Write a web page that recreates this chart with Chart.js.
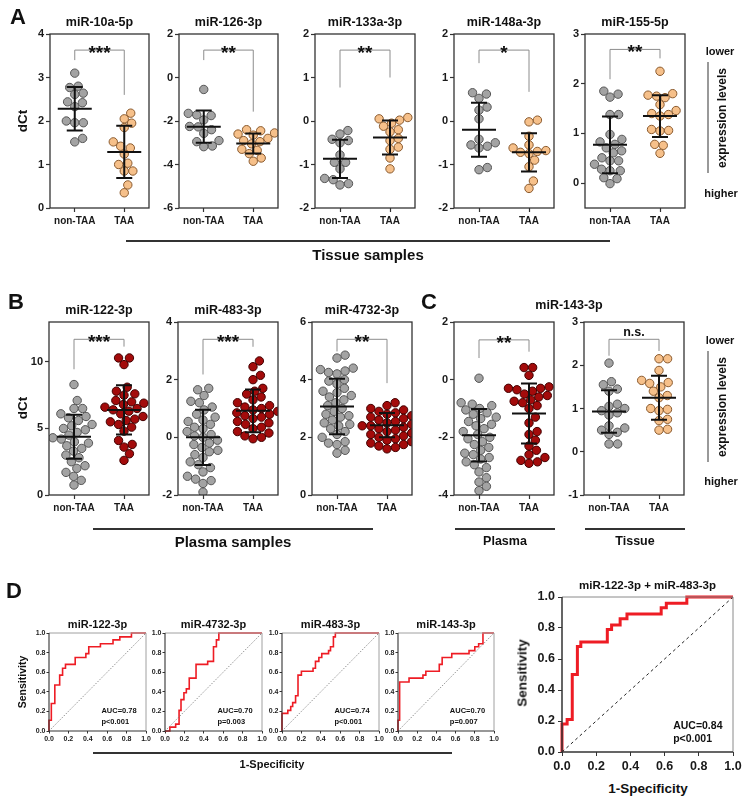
<!DOCTYPE html>
<html>
<head>
<meta charset="utf-8">
<script src="https://cdn.jsdelivr.net/npm/chart.js@4.4.1/dist/chart.umd.min.js"></script>
<style>
  body{margin:0;background:#fff;font-family:"Liberation Sans",Arial,sans-serif;}
  #fig{position:relative;width:749px;height:802px;overflow:hidden;background:#fff}
  #fig canvas{position:absolute}
  .t{position:absolute;font-weight:bold;white-space:nowrap;color:#111;transform:translate(-50%,-50%)}
  .v{transform:translate(-50%,-50%) rotate(-90deg)}
  .ln{position:absolute;height:1.5px;background:#333}
  .vl{position:absolute;width:1.5px;background:#999}
</style>
</head>
<body>
<div id="fig"></div>
<script>
// ---- data ----
const groups = ['non-TAA', 'TAA'];

// A: tissue samples, dCt
const a1Non = [3.10, 2.80, 2.77, 2.64, 2.61, 2.44, 2.33, 2.42, 2.00, 1.96, 1.96, 1.52, 1.60];
const a1Taa = [2.18, 2.05, 1.95, 1.85, 1.52, 1.38, 1.42, 1.24, 1.03, 1.00, 0.85, 0.85, 0.53, 0.35];
const a2Non = [-0.55, -1.65, -1.72, -1.75, -1.95, -2.25, -2.27, -2.40, -2.57, -2.90, -2.95, -3.15, -3.18];
const a2Taa = [-2.40, -2.45, -2.55, -2.60, -2.65, -2.80, -2.90, -2.95, -3.05, -3.30, -3.35, -3.50, -3.70, -3.85];
const a3Non = [-0.22, -0.30, -0.42, -0.45, -0.50, -0.78, -0.95, -0.95, -1.10, -1.32, -1.35, -1.44, -1.47];
const a3Taa = [0.08, 0.05, 0.02, -0.05, -0.12, -0.20, -0.25, -0.40, -0.45, -0.60, -0.65, -0.85, -1.10];
const a4Non = [0.65, 0.62, 0.52, 0.32, 0.25, 0.05, -0.42, -0.50, -0.55, -0.58, -0.62, -1.07, -1.12];
const a4Taa = [0.02, -0.02, -0.35, -0.55, -0.62, -0.68, -0.70, -0.72, -0.75, -0.90, -1.05, -1.38, -1.55];
const a5Non = [1.79, 1.73, 1.85, 1.38, 1.38, 0.98, 0.88, 0.83, 0.78, 0.71, 0.61, 0.65, 0.51, 0.45, 0.45, 0.38, 0.25, 0.25, 0.28, 0.11, 0.09, -0.01];
const a5Taa = [2.25, 1.80, 1.77, 1.75, 1.72, 1.58, 1.46, 1.40, 1.38, 1.35, 1.08, 1.06, 1.05, 0.78, 0.76, 0.60];

// B: plasma samples, dCt
const b1Non = [8.3, 7.1, 6.5, 6.5, 6.1, 5.9, 5.8, 5.6, 5.3, 5.2, 5.0, 4.9, 4.7, 4.5, 4.3, 4.2, 4.0, 3.9, 3.7, 3.5, 3.3, 3.0, 2.8, 2.5, 2.2, 2.0, 1.7, 1.4, 1.1, 0.75];
const b1Taa = [10.3, 10.3, 9.8, 8.1, 7.8, 7.6, 7.5, 7.1, 7.0, 6.9, 6.8, 6.6, 6.5, 6.4, 6.3, 6.1, 5.9, 5.7, 5.6, 5.5, 5.3, 5.1, 4.8, 4.1, 3.8, 3.6, 3.1, 2.6];
const b2Non = [1.7, 1.65, 1.45, 1.25, 1.2, 1.05, 0.95, 0.8, 0.7, 0.6, 0.55, 0.45, 0.35, 0.3, 0.2, 0.1, 0.05, 0.0, -0.1, -0.2, -0.25, -0.35, -0.45, -0.5, -0.6, -0.7, -0.85, -0.95, -1.05, -1.2, -1.35, -1.45, -1.5, -1.6, -1.9];
const b2Taa = [2.65, 2.45, 2.15, 2.0, 1.7, 1.6, 1.5, 1.4, 1.3, 1.2, 1.1, 1.05, 1.0, 0.95, 0.9, 0.85, 0.8, 0.75, 0.7, 0.65, 0.55, 0.5, 0.45, 0.35, 0.3, 0.2, 0.15, 0.05, 0.0, -0.05];
const b3Non = [4.85, 4.75, 4.4, 4.35, 4.3, 4.25, 4.2, 4.0, 3.95, 3.85, 3.7, 3.6, 3.55, 3.45, 3.4, 3.3, 3.2, 3.1, 3.0, 2.9, 2.8, 2.75, 2.7, 2.6, 2.5, 2.45, 2.4, 2.3, 2.2, 2.1, 2.0, 1.85, 1.8, 1.75, 1.55, 1.45];
const b3Taa = [3.2, 3.1, 3.0, 2.95, 2.9, 2.85, 2.8, 2.75, 2.7, 2.65, 2.6, 2.55, 2.5, 2.45, 2.4, 2.4, 2.35, 2.3, 2.25, 2.2, 2.15, 2.1, 2.05, 2.0, 1.95, 1.9, 1.85, 1.8, 1.75, 1.7, 1.65, 1.6];

// C: miR-143-3p, plasma and tissue
const c1Non = [0.05, -0.8, -0.85, -0.9, -1.0, -1.05, -1.15, -1.2, -1.3, -1.35, -1.45, -1.55, -1.6, -1.7, -1.8, -1.9, -2.0, -2.05, -2.15, -2.25, -2.35, -2.45, -2.55, -2.6, -2.7, -2.75, -2.85, -2.95, -3.05, -3.2, -3.4, -3.55, -3.7, -3.85];
const c1Taa = [0.42, 0.42, 0.15, -0.25, -0.3, -0.3, -0.35, -0.4, -0.5, -0.55, -0.6, -0.7, -0.75, -0.8, -0.9, -1.0, -1.3, -1.5, -1.8, -1.9, -2.1, -2.3, -2.45, -2.6, -2.7, -2.8, -2.85, -2.9];
const c2Non = [2.05, 1.62, 1.55, 1.45, 1.4, 1.1, 1.05, 1.0, 0.95, 0.9, 0.85, 0.6, 0.55, 0.5, 0.45, 0.4, 0.18, 0.18];
const c2Taa = [2.15, 2.15, 1.88, 1.65, 1.6, 1.58, 1.5, 1.4, 1.3, 1.25, 1.0, 0.98, 0.95, 0.75, 0.72, 0.52, 0.5];

// mean and SD per group, as drawn
const a1Mean = [2.28, 1.29], a1Sd = [0.50, 0.60];
const a2Mean = [-2.26, -3.03], a2Sd = [0.74, 0.46];
const a3Mean = [-0.87, -0.38], a3Sd = [0.44, 0.39];
const a4Mean = [-0.20, -0.72], a4Sd = [0.62, 0.44];
const a5Mean = [0.77, 1.35], a5Sd = [0.57, 0.42];
const b1Mean = [4.38, 6.39], b1Sd = [1.65, 1.85];
const b2Mean = [0.00, 0.92], b2Sd = [0.96, 0.74];
const b3Mean = [3.07, 2.42], b3Sd = [0.96, 0.42];
const c1Mean = [-1.93, -1.17], c1Sd = [0.91, 1.04];
const c2Mean = [0.93, 1.25], c2Sd = [0.49, 0.51];

// significance brackets: [top, left leg end, right leg end]
const a1Br = [3.63, 3.4, 2.6],   a1Sig = '***';
const a2Br = [1.26, 0.8, -1.57], a2Sig = '**';
const a3Br = [1.63, 0.77, 1.0],  a3Sig = '**';
const a4Br = [1.63, 1.33, 0.67], a4Sig = '*';
const a5Br = [2.69, 2.09, 2.51], a5Sig = '**';
const b1Br = [11.7, 9.45, 11.15], b1Sig = '***';
const b2Br = [3.4, 2.18, 3.14],  b2Sig = '***';
const b3Br = [5.4, 4.98, 3.88],  b3Sig = '**';
const c1Br = [1.38, 0.75, 0.97], c1Sig = '**';
const c2Br = [2.6, 2.22, 2.33],  c2Sig = 'n.s.';

// y ranges and tick labels
const a1Range = [0, 4],    a1Ticks = [0, 1, 2, 3, 4];
const a2Range = [-6, 2],   a2Ticks = [-6, -4, -2, 0, 2];
const a3Range = [-2, 2],   a3Ticks = [-2, -1, 0, 1, 2];
const a4Range = [-2, 2],   a4Ticks = [-2, -1, 0, 1, 2];
const a5Range = [-0.5, 3], a5Ticks = [0, 1, 2, 3];
const b1Range = [0, 13],   b1Ticks = [0, 5, 10];
const b2Range = [-2, 4],   b2Ticks = [-2, 0, 2, 4];
const b3Range = [0, 6],    b3Ticks = [0, 2, 4, 6];
const c1Range = [-4, 2],   c1Ticks = [-4, -2, 0, 2];
const c2Range = [-1, 3],   c2Ticks = [-1, 0, 1, 2, 3];

// D: ROC curves (1-specificity, sensitivity) at each step corner
const d1Fpr = [0, 0, 0.024, 0.06, 0.11, 0.14, 0.17, 0.27, 0.38, 0.41, 0.53, 0.66, 0.73, 0.85, 1];
const d1Tpr = [0, 0.11, 0.28, 0.47, 0.57, 0.64, 0.68, 0.75, 0.79, 0.86, 0.89, 0.93, 0.96, 1, 1];
const d2Fpr = [0, 0.05, 0.11, 0.145, 0.165, 0.195, 0.22, 0.25, 0.32, 0.44, 0.5, 0.53, 0.555, 1];
const d2Tpr = [0, 0.04, 0.07, 0.21, 0.32, 0.39, 0.43, 0.54, 0.68, 0.71, 0.86, 0.93, 1, 1];
const d3Fpr = [0, 0, 0.06, 0.09, 0.11, 0.14, 0.165, 0.2, 0.32, 0.345, 0.38, 0.41, 0.48, 0.5, 0.53, 0.55, 1];
const d3Tpr = [0, 0.18, 0.21, 0.25, 0.29, 0.36, 0.57, 0.61, 0.64, 0.71, 0.75, 0.79, 0.82, 0.86, 0.96, 1, 1];
const d4Fpr = [0, 0, 0.017, 0.115, 0.26, 0.29, 0.43, 0.46, 0.56, 0.74, 0.8, 0.84, 0.885, 1];
const d4Tpr = [0, 0.11, 0.5, 0.54, 0.57, 0.61, 0.68, 0.75, 0.79, 0.82, 0.86, 0.89, 1, 1];
const d5Fpr = [0, 0, 0.03, 0.06, 0.09, 0.11, 0.265, 0.29, 0.34, 0.38, 0.58, 0.61, 0.73, 1];
const d5Tpr = [0, 0.18, 0.21, 0.5, 0.68, 0.71, 0.79, 0.82, 0.86, 0.89, 0.93, 0.96, 1, 1];
const chance = [0, 1];
const rocTicks = [0, 0.2, 0.4, 0.6, 0.8, 1];
const aucText = ['AUC=0.78', 'AUC=0.70', 'AUC=0.74', 'AUC=0.70', 'AUC=0.84'];
const pText = ['p<0.001', 'p=0.003', 'p<0.001', 'p=0.007', 'p<0.001'];

// ---- drawing ----
const FONT = '"Liberation Sans", Arial, sans-serif';
Chart.defaults.font.family = FONT;
Chart.defaults.font.weight = 'bold';
Chart.defaults.color = '#1a1a1a';

const fig = document.getElementById('fig');
const GRAY = ['#a3a3a3', '#555'], ORANGE = ['#f6c08a', '#8a5a2e'], RED = ['#a30b0b', '#420000'];

function text(str, x, y, size, rot){
  const d = document.createElement('div');
  d.className = 't' + (rot ? ' v' : '');
  d.style.left = x + 'px'; d.style.top = y + 'px'; d.style.fontSize = size + 'px';
  d.textContent = str; fig.appendChild(d);
}
function hline(x1, x2, y){
  const d = document.createElement('div'); d.className = 'ln';
  d.style.left = x1 + 'px'; d.style.top = y + 'px'; d.style.width = (x2 - x1) + 'px'; fig.appendChild(d);
}
function vline(x, y1, y2){
  const d = document.createElement('div'); d.className = 'vl';
  d.style.left = x + 'px'; d.style.top = y1 + 'px'; d.style.height = (y2 - y1) + 'px'; fig.appendChild(d);
}
function canvasFor(box, pad){
  const cv = document.createElement('canvas');
  cv.width = box[2] - box[0] + pad.l + pad.r; cv.height = box[3] - box[1] + pad.t + pad.b;
  cv.style.left = (box[0] - pad.l) + 'px'; cv.style.top = (box[1] - pad.t) + 'px';
  fig.appendChild(cv); return cv;
}

// beeswarm spreading in pixels, smallest sideways shift that avoids overlap
function swarm(vals, yPix, d){
  const order = vals.map((v, i) => i).sort((a, b) => vals[a] - vals[b]);
  const placed = [], out = [];
  order.forEach(i => {
    const y = yPix(vals[i]);
    const near = placed.filter(p => Math.abs(p.y - y) < d);
    const cands = [0];
    near.forEach(p => { const dx = Math.sqrt(d * d - (p.y - y) ** 2); cands.push(p.x + dx, p.x - dx); });
    cands.sort((a, b) => Math.abs(a) - Math.abs(b));
    const x = cands.find(c => near.every(p => (p.x - c) ** 2 + (p.y - y) ** 2 >= d * d - 0.01));
    placed.push({ x, y }); out[i] = x;
  });
  return out;
}

function dotExtras(cfg){
  return {
    id: 'dotExtras',
    afterDatasetsDraw(chart){
      const { ctx, chartArea: a, scales: { x, y } } = chart;
      ctx.save();
      ctx.strokeStyle = '#333'; ctx.lineWidth = 1.3;
      ctx.strokeRect(a.left, a.top, a.right - a.left, a.bottom - a.top);
      // mean +- SD
      ctx.strokeStyle = '#111'; ctx.lineWidth = 2;
      cfg.mean.forEach((m, i) => {
        const cx = x.getPixelForValue(i), ym = y.getPixelForValue(m);
        const y1 = y.getPixelForValue(m + cfg.sd[i]), y2 = y.getPixelForValue(m - cfg.sd[i]);
        ctx.beginPath();
        ctx.moveTo(cx - 17, ym); ctx.lineTo(cx + 17, ym);
        ctx.moveTo(cx, y1); ctx.lineTo(cx, y2);
        ctx.moveTo(cx - 8, y1); ctx.lineTo(cx + 8, y1);
        ctx.moveTo(cx - 8, y2); ctx.lineTo(cx + 8, y2);
        ctx.stroke();
      });
      // bracket + stars
      const [top, l, r] = cfg.br;
      const x0 = x.getPixelForValue(0), x1 = x.getPixelForValue(1), yt = y.getPixelForValue(top);
      ctx.strokeStyle = '#8c8c8c'; ctx.lineWidth = 1;
      ctx.beginPath();
      ctx.moveTo(x0, y.getPixelForValue(l)); ctx.lineTo(x0, yt); ctx.lineTo(x1, yt); ctx.lineTo(x1, y.getPixelForValue(r));
      ctx.stroke();
      ctx.fillStyle = '#111'; ctx.textAlign = 'center'; ctx.textBaseline = 'alphabetic';
      if (cfg.sig.includes('*')) { ctx.font = 'bold 19px ' + FONT; ctx.fillText(cfg.sig, (x0 + x1) / 2, yt + 9); }
      else { ctx.font = 'bold 12.5px ' + FONT; ctx.fillText(cfg.sig, (x0 + x1) / 2, yt - 3); }
      if (cfg.title) {
        ctx.font = 'bold 12.5px ' + FONT; ctx.textBaseline = 'middle';
        ctx.fillText(cfg.title, (a.left + a.right) / 2, a.top - 11.5);
      }
      ctx.restore();
    }
  };
}

function dotPanel(cfg){
  const pad = { l: 34, t: 26, r: 10, b: 24 };
  const cv = canvasFor(cfg.box, pad);
  const chart = new Chart(cv, {
    type: 'scatter',
    data: { datasets: cfg.series.map((vals, i) => ({
      data: vals.map(v => ({ x: i, y: v })),
      pointRadius: 4.2, pointHoverRadius: 4.2, pointBorderWidth: 1,
      pointBackgroundColor: cfg.colors[i][0], pointBorderColor: cfg.colors[i][1]
    })) },
    options: {
      responsive: false, animation: false, events: [],
      layout: { padding: { left: 0, top: pad.t, right: pad.r, bottom: 0 } },
      plugins: { legend: { display: false }, tooltip: { enabled: false } },
      scales: {
        x: {
          type: 'linear', min: -0.5, max: 1.5,
          afterFit: s => { s.height = pad.b; },
          afterBuildTicks: s => { s.ticks = [{ value: 0 }, { value: 1 }]; },
          ticks: { callback: v => groups[v], font: { size: 10, weight: 'bold' }, padding: 3, maxRotation: 0, autoSkip: false },
          grid: { display: true, drawOnChartArea: false, drawTicks: true, tickLength: 4, tickColor: '#333', tickWidth: 1.2 },
          border: { display: false }
        },
        y: {
          min: cfg.range[0], max: cfg.range[1],
          afterFit: s => { s.width = pad.l; },
          afterBuildTicks: s => { s.ticks = cfg.ticks.map(v => ({ value: v })); },
          ticks: { font: { size: 11, weight: 'bold' }, padding: 2 },
          grid: { display: true, drawOnChartArea: false, drawTicks: true, tickLength: 4, tickColor: '#333', tickWidth: 1.2 },
          border: { display: false }
        }
      }
    },
    plugins: [dotExtras(cfg)]
  });
  // spread dots sideways like a scatter dot plot
  const xs = chart.scales.x, ys = chart.scales.y;
  const pxX = xs.getPixelForValue(1) - xs.getPixelForValue(0);
  chart.data.datasets.forEach((ds, i) => {
    const offs = swarm(cfg.series[i], v => ys.getPixelForValue(v), 8.6);
    ds.data = cfg.series[i].map((v, k) => ({ x: i + offs[k] / pxX, y: v }));
  });
  chart.update('none');
}

function rocExtras(cfg){
  return {
    id: 'rocExtras',
    afterDatasetsDraw(chart){
      const { ctx, chartArea: a, scales: { x, y } } = chart;
      ctx.save();
      ctx.strokeStyle = cfg.big ? '#8a8a8a' : '#a0a0a0'; ctx.lineWidth = 1;
      ctx.beginPath(); ctx.moveTo(a.left, a.top); ctx.lineTo(a.right, a.top); ctx.lineTo(a.right, a.bottom); ctx.stroke();
      ctx.strokeStyle = '#333'; ctx.lineWidth = cfg.big ? 1.5 : 1.1;
      ctx.beginPath(); ctx.moveTo(a.left, a.top); ctx.lineTo(a.left, a.bottom); ctx.lineTo(a.right, a.bottom); ctx.stroke();
      ctx.fillStyle = '#111'; ctx.textBaseline = 'middle';
      ctx.textAlign = 'center'; ctx.font = 'bold ' + (cfg.big ? 11.5 : 11) + 'px ' + FONT;
      ctx.fillText(cfg.title, (a.left + a.right) / 2, a.top - (cfg.big ? 11 : 8.5));
      ctx.textAlign = 'left'; ctx.font = 'bold ' + (cfg.big ? 10.5 : 7.5) + 'px ' + FONT;
      const ax = x.getPixelForValue(cfg.big ? 0.65 : 0.54);
      ctx.fillText(cfg.auc, ax, y.getPixelForValue(cfg.big ? 0.165 : 0.2));
      ctx.fillText(cfg.p, ax, y.getPixelForValue(cfg.big ? 0.08 : 0.095));
      ctx.restore();
    }
  };
}

function rocPanel(cfg){
  const big = cfg.big;
  const pad = big ? { l: 40, t: 20, r: 16, b: 22 } : { l: 24, t: 18, r: 10, b: 14 };
  const cv = canvasFor(cfg.box, pad);
  const tickFont = { size: big ? 12.5 : 7, weight: 'bold' };
  const axis = (fit) => ({
    type: 'linear', min: 0, max: 1, afterFit: fit,
    afterBuildTicks: s => { s.ticks = rocTicks.map(v => ({ value: v })); },
    ticks: { callback: v => v.toFixed(1), font: tickFont, padding: big ? 3 : 1, maxRotation: 0, autoSkip: false },
    grid: { display: true, drawOnChartArea: false, drawTicks: true, tickLength: big ? 4 : 2.5, tickColor: '#333' },
    border: { display: false }
  });
  new Chart(cv, {
    type: 'scatter',
    data: { datasets: [
      { data: chance.map(v => ({ x: v, y: v })), showLine: true, pointRadius: 0,
        borderColor: big ? '#222' : '#777', borderWidth: big ? 1 : 0.8, borderDash: big ? [3, 3] : [1.5, 1.5] },
      { data: cfg.fpr.map((v, i) => ({ x: v, y: cfg.tpr[i] })), showLine: true, pointRadius: 0, stepped: 'before',
        borderColor: '#ee1c24', borderWidth: big ? 3 : 1.6, clip: 3 }
    ] },
    options: {
      responsive: false, animation: false, events: [],
      layout: { padding: { left: 0, top: pad.t, right: pad.r, bottom: 0 } },
      plugins: { legend: { display: false }, tooltip: { enabled: false } },
      scales: { x: axis(s => { s.height = pad.b; }), y: axis(s => { s.width = pad.l; }) }
    },
    plugins: [rocExtras(cfg)]
  });
}

// row A
dotPanel({ title: 'miR-10a-5p', box: [50, 34, 149, 208], range: a1Range, ticks: a1Ticks, series: [a1Non, a1Taa], colors: [GRAY, ORANGE], mean: a1Mean, sd: a1Sd, br: a1Br, sig: a1Sig });
dotPanel({ title: 'miR-126-3p', box: [179, 34, 278, 208], range: a2Range, ticks: a2Ticks, series: [a2Non, a2Taa], colors: [GRAY, ORANGE], mean: a2Mean, sd: a2Sd, br: a2Br, sig: a2Sig });
dotPanel({ title: 'miR-133a-3p', box: [315, 34, 415, 208], range: a3Range, ticks: a3Ticks, series: [a3Non, a3Taa], colors: [GRAY, ORANGE], mean: a3Mean, sd: a3Sd, br: a3Br, sig: a3Sig });
dotPanel({ title: 'miR-148a-3p', box: [454, 34, 554, 208], range: a4Range, ticks: a4Ticks, series: [a4Non, a4Taa], colors: [GRAY, ORANGE], mean: a4Mean, sd: a4Sd, br: a4Br, sig: a4Sig });
dotPanel({ title: 'miR-155-5p', box: [585, 34, 685, 208], range: a5Range, ticks: a5Ticks, series: [a5Non, a5Taa], colors: [GRAY, ORANGE], mean: a5Mean, sd: a5Sd, br: a5Br, sig: a5Sig });
// row B and C
dotPanel({ title: 'miR-122-3p', box: [49, 322, 149, 495], range: b1Range, ticks: b1Ticks, series: [b1Non, b1Taa], colors: [GRAY, RED], mean: b1Mean, sd: b1Sd, br: b1Br, sig: b1Sig });
dotPanel({ title: 'miR-483-3p', box: [178, 322, 278, 495], range: b2Range, ticks: b2Ticks, series: [b2Non, b2Taa], colors: [GRAY, RED], mean: b2Mean, sd: b2Sd, br: b2Br, sig: b2Sig });
dotPanel({ title: 'miR-4732-3p', box: [312, 322, 412, 495], range: b3Range, ticks: b3Ticks, series: [b3Non, b3Taa], colors: [GRAY, RED], mean: b3Mean, sd: b3Sd, br: b3Br, sig: b3Sig });
dotPanel({ box: [454, 322, 554, 495], range: c1Range, ticks: c1Ticks, series: [c1Non, c1Taa], colors: [GRAY, RED], mean: c1Mean, sd: c1Sd, br: c1Br, sig: c1Sig });
dotPanel({ box: [584, 322, 684, 495], range: c2Range, ticks: c2Ticks, series: [c2Non, c2Taa], colors: [GRAY, ORANGE], mean: c2Mean, sd: c2Sd, br: c2Br, sig: c2Sig });
// row D
rocPanel({ title: 'miR-122-3p', box: [49, 633, 146, 731], fpr: d1Fpr, tpr: d1Tpr, auc: aucText[0], p: pText[0] });
rocPanel({ title: 'miR-4732-3p', box: [165, 633, 262, 731], fpr: d2Fpr, tpr: d2Tpr, auc: aucText[1], p: pText[1] });
rocPanel({ title: 'miR-483-3p', box: [282, 633, 379, 731], fpr: d3Fpr, tpr: d3Tpr, auc: aucText[2], p: pText[2] });
rocPanel({ title: 'miR-143-3p', box: [398, 633, 494, 731], fpr: d4Fpr, tpr: d4Tpr, auc: aucText[3], p: pText[3] });
rocPanel({ title: 'miR-122-3p + miR-483-3p', box: [562, 597, 733, 752], fpr: d5Fpr, tpr: d5Tpr, auc: aucText[4], p: pText[4], big: true });

// labels and group lines
text('A', 18, 17, 22); text('B', 16, 302, 22); text('C', 429, 302, 22); text('D', 14, 591, 22);
text('dCt', 22, 121, 13.5, true); text('dCt', 22, 408, 13.5, true);
hline(126, 610, 240); text('Tissue samples', 368, 254, 15);
hline(93, 373, 528); text('Plasma samples', 233, 541, 15);
text('miR-143-3p', 569, 305, 12.5);
hline(455, 555, 528); text('Plasma', 505, 541, 12.5);
hline(585, 685, 528); text('Tissue', 635, 541, 12.5);
[[51, 62, 173, 118, 193], [340, 351, 462, 407, 481]].forEach(([lo, l1, l2, mid, hi]) => {
  text('lower', 720, lo, 11); vline(707, l1, l2); text('expression levels', 722, mid, 12, true); text('higher', 721, hi, 11);
});
text('Sensitivity', 22, 682, 10.5, true);
hline(93, 452, 752); text('1-Specificity', 272, 764, 11);
text('Sensitivity', 522, 673, 13.5, true);
text('1-Specificity', 648, 788, 13.5);
</script>
</body>
</html>
